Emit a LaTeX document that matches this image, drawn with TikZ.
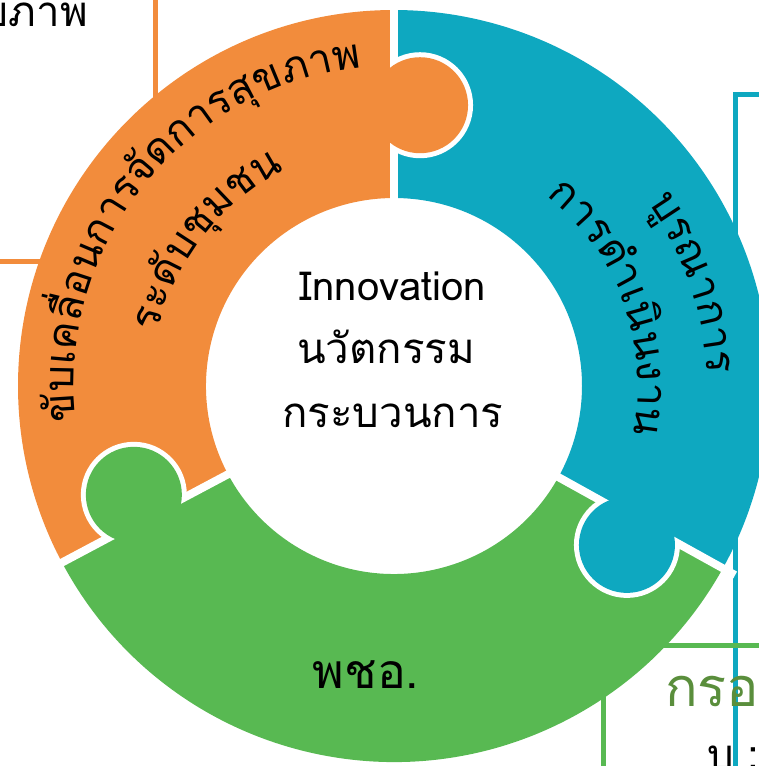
\documentclass[tikz,border=0pt]{standalone}
\usepackage{fontspec}
\setmainfont[Script=Thai]{Loma}
\usetikzlibrary{calc}
\definecolor{orng}{HTML}{F28C3C}
\definecolor{tealc}{HTML}{0EA8C0}
\definecolor{grn}{HTML}{58B952}
\definecolor{olivec}{HTML}{5A8E3C}
\newdimen\rtw
\newdimen\rtaccd
\font\ringfont="Loma:script=thai" at 42pt
% #1 name, #2 baseline radius, #3 middle angle, #4 list of clusters (read clockwise)
\newcommand\ringtext[4]{%
  \global\rtaccd=0pt\relax
  \foreach \w in {#4}{\setbox0=\hbox{\ringfont\w}\global\advance\rtaccd by \wd0\relax}%
  \pgfmathsetmacro\rtstart{#3+\rtaccd/2/#2*180/pi}%
  \global\rtaccd=0pt\relax
  \foreach \w [count=\i] in {#4}{%
    \setbox0=\hbox{\ringfont\w}\rtw=\wd0\relax
    \pgfmathsetmacro\rtang{\rtstart-(\rtaccd+0.5*\rtw)/#2*180/pi}%
    \node[anchor=base,rotate=\rtang-90,inner sep=0pt,font=\ringfont] (#1-\i) at (\rtang:#2) {\w};
    \global\advance\rtaccd by \rtw\relax
  }%
}
\begin{document}
\begin{tikzpicture}[x=1pt,y=1pt]
\useasboundingbox (0,0) rectangle (759,-766);
\begin{scope}
\clip (0,0) rectangle (759,-766);
% partial boxes behind the ring
\draw[orng, line width=5] (-30,30) rectangle (155,-261);
\draw[tealc, line width=5] (735,-94) rectangle (820,-820);
\draw[grn, line width=5] (603,-645) rectangle (820,-820);
\node[anchor=base east, inner sep=0pt, font=\fontsize{42}{50}\selectfont] (tl) at (88,-26) {สุขภาพ};
\node[anchor=base west, inner sep=0pt, text=olivec, font=\fontsize{54}{60}\selectfont] (br) at (665,-706) {กรอ};
\node[anchor=base west, inner sep=0pt, font=\fontsize{42}{50}\selectfont] (br2) at (707,-769) {บ :};
% ring
\begin{scope}[shift={(394,-386)}]
\fill[orng] (90:376) arc[start angle=90,end angle=208,radius=376] -- (208:188) arc[start angle=208,end angle=90,radius=188] -- cycle;
\fill[tealc] (-29:376) arc[start angle=-29,end angle=90,radius=376] -- (90:188) arc[start angle=90,end angle=-29,radius=188] -- cycle;
\fill[grn] (208:376) arc[start angle=208,end angle=331,radius=376] -- (331:188) arc[start angle=331,end angle=208,radius=188] -- cycle;
\foreach \a in {90,208,331} \draw[white,line width=8] (\a:180) -- (\a:390);
\foreach \s/\c in {90/orng, 331/tealc, 208/grn}{
  \begin{scope}
    \clip (0,0) -- (\s:400) arc[start angle=\s,end angle=\s-45,radius=400] -- cycle;
    \fill[white] (\s-5.3:282) circle[radius=53];
  \end{scope}
  \fill[\c] (\s-5.3:282) circle[radius=48];
}
\ringtext{o1}{320}{141}{ขั,บ,เ,ค,ลื่,อ,น,ก,า,ร,จั,ด,ก,า,ร,สุ,ข,ภ,า,พ}
\ringtext{o2}{242}{142}{ร,ะ,ดั,บ,ชุ,ม,ช,น}
\ringtext{t1}{313}{19}{บู,ร,ณ,า,ก,า,ร}
\ringtext{t2}{244}{20}{ก,า,ร,ดำ,เ,นิ,น,ง,า,น}
\end{scope}
\node[anchor=base, inner sep=0pt, font=\fontsize{48}{56}\selectfont] (pcho) at (366,-688) {พชอ.};
% centre
\node[anchor=base, inner sep=0pt, font=\fontsize{40}{48}\selectfont] (c1) at (393,-300) {Innovation};
\node[anchor=base, inner sep=0pt, font=\fontsize{42}{50}\selectfont] (c2) at (386,-363) {นวัตกรรม};
\node[anchor=base, inner sep=0pt, font=\fontsize{42}{50}\selectfont] (c3) at (393,-427) {กระบวนการ};
\end{scope}
\end{tikzpicture}
\end{document}
